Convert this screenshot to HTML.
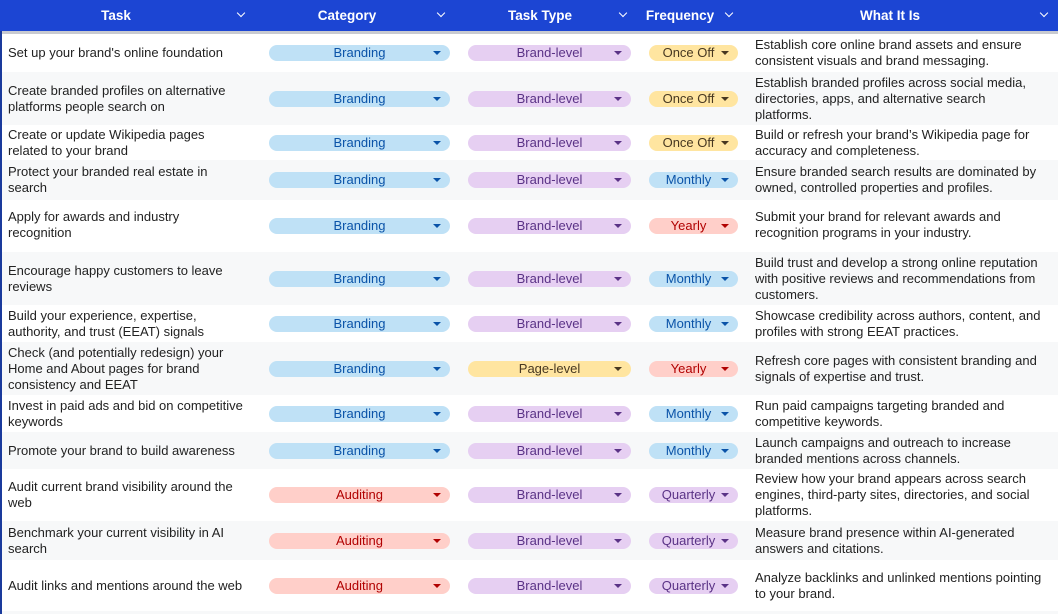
<!DOCTYPE html>
<html><head><meta charset="utf-8"><style>
*{margin:0;padding:0;box-sizing:border-box}
body{width:1058px;height:614px;overflow:hidden;background:#fff;font-family:"Liberation Sans",Arial,sans-serif;font-size:13px;color:#222;position:relative}
.hdr{position:absolute;left:0;top:0;width:1058px;height:31px;background:#1c45d3;color:#fff;font-weight:bold;font-size:13.5px}
.hdr div{position:absolute;top:0;height:31px;line-height:31px;text-align:center}
.hdr i{position:absolute;top:10px;width:6px;height:6px;border-right:1.5px solid #fff;border-bottom:1.5px solid #fff;transform:rotate(45deg)}
.gl{position:absolute;left:0;top:31px;width:1058px;height:3px;background:#c8cad0}
.lb{position:absolute;left:0;top:31px;width:2px;height:583px;background:#1a3a9c}
.row{position:absolute;left:2px;width:1056px}
.row.g{background:#f7f8f9}
.t{position:absolute;left:6px;white-space:nowrap;line-height:16px;top:50%;transform:translateY(-50%)}
.w{position:absolute;left:753px;white-space:nowrap;line-height:16px;top:50%;transform:translateY(-50%)}
.p{position:absolute;height:16px;line-height:16px;border-radius:8px;top:50%;margin-top:-8px;text-align:center;font-size:13px}
.p:after{content:"";position:absolute;right:9px;top:6px;border-left:4px solid transparent;border-right:4px solid transparent;border-top:4px solid currentColor}
.c{left:267px;width:181px}.k{left:466px;width:163px}.f{left:647px;width:89px;padding-right:10px}
.bl{background:#bfe1f6;color:#0a53a8}.pu{background:#e6cff2;color:#5a3286}.ye{background:#ffe5a0;color:#473821}.re{background:#ffcfc9;color:#b10202}
</style></head><body>
<div class="hdr">
<div style="left:0;width:232px">Task</div><i style="left:238px"></i>
<div style="left:262px;width:170px">Category</div><i style="left:438px"></i>
<div style="left:460px;width:160px">Task Type</div><i style="left:620px"></i>
<div style="left:640px;width:80px">Frequency</div><i style="left:726px"></i>
<div style="left:745px;width:290px">What It Is</div><i style="left:1041px"></i>
</div>
<div class="gl"></div>

<div class="row" style="top:34px;height:38px"><div class="t">Set up your brand's online foundation</div><div class="p c bl">Branding</div><div class="p k pu">Brand-level</div><div class="p f ye">Once Off</div><div class="w">Establish core online brand assets and ensure<br>consistent visuals and brand messaging.</div></div>
<div class="row g" style="top:72px;height:53px"><div class="t">Create branded profiles on alternative<br>platforms people search on</div><div class="p c bl">Branding</div><div class="p k pu">Brand-level</div><div class="p f ye">Once Off</div><div class="w">Establish branded profiles across social media,<br>directories, apps, and alternative search<br>platforms.</div></div>
<div class="row" style="top:125px;height:35px"><div class="t">Create or update Wikipedia pages<br>related to your brand</div><div class="p c bl">Branding</div><div class="p k pu">Brand-level</div><div class="p f ye">Once Off</div><div class="w">Build or refresh your brand’s Wikipedia page for<br>accuracy and completeness.</div></div>
<div class="row g" style="top:160px;height:40px"><div class="t">Protect your branded real estate in<br>search</div><div class="p c bl">Branding</div><div class="p k pu">Brand-level</div><div class="p f bl">Monthly</div><div class="w">Ensure branded search results are dominated by<br>owned, controlled properties and profiles.</div></div>
<div class="row" style="top:200px;height:52px"><div class="t" style="top:9px;transform:none">Apply for awards and industry<br>recognition</div><div class="p c bl">Branding</div><div class="p k pu">Brand-level</div><div class="p f re">Yearly</div><div class="w" style="top:9px;transform:none">Submit your brand for relevant awards and<br>recognition programs in your industry.</div></div>
<div class="row g" style="top:252px;height:53px"><div class="t">Encourage happy customers to leave<br>reviews</div><div class="p c bl">Branding</div><div class="p k pu">Brand-level</div><div class="p f bl">Monthly</div><div class="w">Build trust and develop a strong online reputation<br>with positive reviews and recommendations from<br>customers.</div></div>
<div class="row" style="top:305px;height:37px"><div class="t">Build your experience, expertise,<br>authority, and trust (EEAT) signals</div><div class="p c bl">Branding</div><div class="p k pu">Brand-level</div><div class="p f bl">Monthly</div><div class="w">Showcase credibility across authors, content, and<br>profiles with strong EEAT practices.</div></div>
<div class="row g" style="top:342px;height:53px"><div class="t">Check (and potentially redesign) your<br>Home and About pages for brand<br>consistency and EEAT</div><div class="p c bl">Branding</div><div class="p k ye">Page-level</div><div class="p f re">Yearly</div><div class="w">Refresh core pages with consistent branding and<br>signals of expertise and trust.</div></div>
<div class="row" style="top:395px;height:37px"><div class="t">Invest in paid ads and bid on competitive<br>keywords</div><div class="p c bl">Branding</div><div class="p k pu">Brand-level</div><div class="p f bl">Monthly</div><div class="w">Run paid campaigns targeting branded and<br>competitive keywords.</div></div>
<div class="row g" style="top:432px;height:37px"><div class="t">Promote your brand to build awareness</div><div class="p c bl">Branding</div><div class="p k pu">Brand-level</div><div class="p f bl">Monthly</div><div class="w">Launch campaigns and outreach to increase<br>branded mentions across channels.</div></div>
<div class="row" style="top:469px;height:52px"><div class="t">Audit current brand visibility around the<br>web</div><div class="p c re">Auditing</div><div class="p k pu">Brand-level</div><div class="p f pu">Quarterly</div><div class="w">Review how your brand appears across search<br>engines, third-party sites, directories, and social<br>platforms.</div></div>
<div class="row g" style="top:521px;height:39px"><div class="t">Benchmark your current visibility in AI<br>search</div><div class="p c re">Auditing</div><div class="p k pu">Brand-level</div><div class="p f pu">Quarterly</div><div class="w">Measure brand presence within AI-generated<br>answers and citations.</div></div>
<div class="row" style="top:560px;height:51px"><div class="t">Audit links and mentions around the web</div><div class="p c re">Auditing</div><div class="p k pu">Brand-level</div><div class="p f pu">Quarterly</div><div class="w">Analyze backlinks and unlinked mentions pointing<br>to your brand.</div></div>
<div class="row g" style="top:611px;height:3px"></div>
<div class="lb"></div>
</body></html>
